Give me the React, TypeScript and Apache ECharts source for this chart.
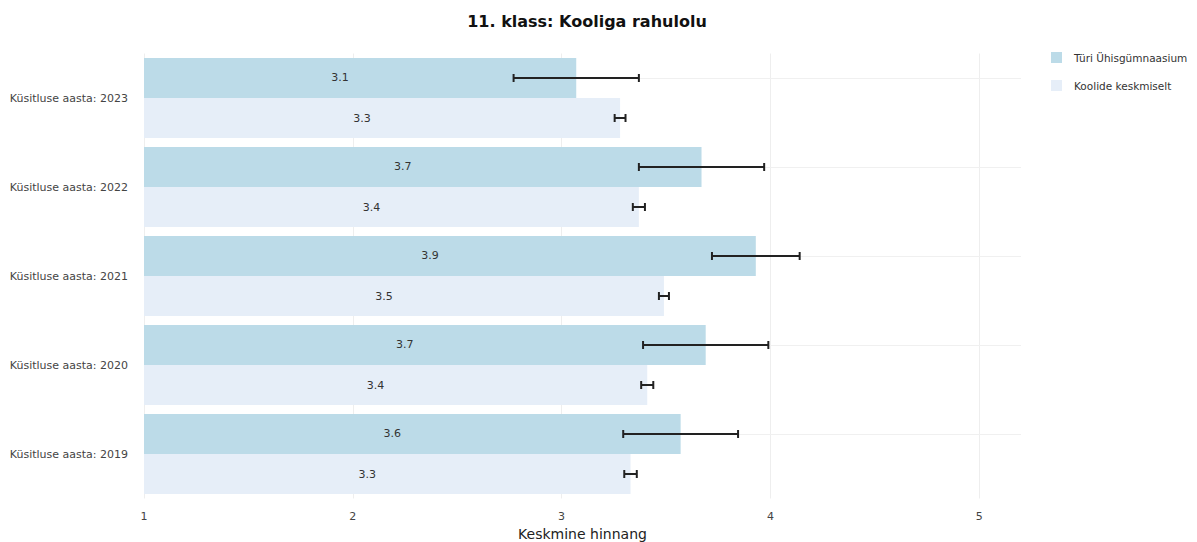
import React, { useEffect, useRef } from "react";
import * as echarts from "echarts";

const categories = [
  "Küsitluse aasta: 2023",
  "Küsitluse aasta: 2022",
  "Küsitluse aasta: 2021",
  "Küsitluse aasta: 2020",
  "Küsitluse aasta: 2019",
];
const schoolName = "Türi Ühisgümnaasium";
const avgName = "Koolide keskmiselt";
const schoolValues = [3.07, 3.67, 3.93, 3.69, 3.57];
const schoolErrors = [0.3, 0.3, 0.21, 0.3, 0.275];
const avgValues = [3.28, 3.37, 3.49, 3.41, 3.33];
const avgErrors = [0.026, 0.029, 0.024, 0.029, 0.03];
const xTicks = [1, 2, 3, 4, 5];

const FONT = "DejaVu Sans";

function errorSeries(values: number[], errors: number[], sign: number) {
  return {
    type: "custom",
    silent: true,
    z: 5,
    renderItem: (params: any, api: any) => {
      const idx = api.value(0);
      const val = api.value(1);
      const err = api.value(2);
      const band = api.size([0, 1])[1];
      const off = sign * band * 0.225;
      const c = api.coord([val, idx]);
      const y = c[1] + off;
      const x0 = api.coord([val - err, idx])[0];
      const x1 = api.coord([val + err, idx])[0];
      const cap = 4;
      const style = { stroke: "#222", lineWidth: 2 };
      return {
        type: "group",
        children: [
          { type: "line", shape: { x1: x0, y1: y, x2: x1, y2: y }, style },
          { type: "line", shape: { x1: x0, y1: y - cap, x2: x0, y2: y + cap }, style },
          { type: "line", shape: { x1: x1, y1: y - cap, x2: x1, y2: y + cap }, style },
        ],
      };
    },
    encode: { x: 1, y: 0 },
    data: values.map((v, i) => [i, v, errors[i]]),
  };
}

export default function App() {
  const ref = useRef<HTMLDivElement>(null);
  useEffect(() => {
    document.body.style.margin = "0";
    if (!ref.current) return;
    const chart = echarts.init(ref.current, undefined, { renderer: "svg" });
    const label = {
      show: true,
      position: "inside",
      offset: [-20, 0],
      color: "#333",
      fontSize: 11,
      fontFamily: FONT,
      formatter: (p: any) => (Math.round(p.value * 10) / 10).toFixed(1),
    };
    chart.setOption({
      animation: false,
      textStyle: { fontFamily: FONT },
      title: {
        text: "11. klass: Kooliga rahulolu",
        left: 582,
        textAlign: "center",
        top: 8,
        textStyle: { fontSize: 16, fontWeight: "bold", color: "#111", fontFamily: FONT },
      },
      legend: {
        orient: "vertical",
        left: 1046,
        top: 47,
        padding: 5,
        itemWidth: 11,
        itemHeight: 11,
        itemGap: 17,
        icon: "rect",
        data: [schoolName, avgName],
        textStyle: { fontSize: 10.5, color: "#333", fontFamily: FONT, padding: [0, 0, 0, 7] },
      },
      grid: { left: 144, right: 176, top: 53.5, bottom: 43.5, outerBoundsMode: "none", containLabel: false },
      xAxis: {
        type: "value",
        min: 1,
        max: 5.2,
        interval: 1,
        name: "Keskmine hinnang",
        nameLocation: "middle",
        nameGap: 28,
        nameTextStyle: { fontSize: 14, color: "#222", fontFamily: FONT },
        axisLine: { show: false },
        axisTick: { show: false },
        axisLabel: {
          fontSize: 11,
          color: "#444",
          margin: 12,
          formatter: (v: number) => (xTicks.includes(v) ? String(v) : ""),
        },
        splitLine: { show: true, showMaxLine: false, lineStyle: { color: "#eeeeee", width: 1 } },
      },
      yAxis: {
        type: "category",
        inverse: true,
        data: categories,
        axisLine: { show: false },
        axisTick: { show: false },
        splitLine: { show: false },
        axisLabel: { fontSize: 11, color: "#444", margin: 16, fontFamily: FONT },
      },
      series: [
        {
          name: schoolName,
          type: "bar",
          data: schoolValues,
          barGap: "0%",
          barCategoryGap: "10%",
          itemStyle: { color: "#bcdbe8" },
          label,
          z: 2,
          markLine: {
            silent: true,
            symbol: "none",
            label: { show: false },
            lineStyle: { color: "#f0f0f0", type: "solid", width: 1 },
            data: categories.map((c) => ({ yAxis: c })),
            z: 1,
          },
        },
        {
          name: avgName,
          type: "bar",
          data: avgValues,
          barGap: "0%",
          barCategoryGap: "10%",
          itemStyle: { color: "#e6eef8" },
          label,
          z: 2,
        },
        errorSeries(schoolValues, schoolErrors, -1),
        errorSeries(avgValues, avgErrors, 1),
      ],
    });
    return () => chart.dispose();
  }, []);
  return <div ref={ref} style={{ width: 1197, height: 542 }} />;
}
